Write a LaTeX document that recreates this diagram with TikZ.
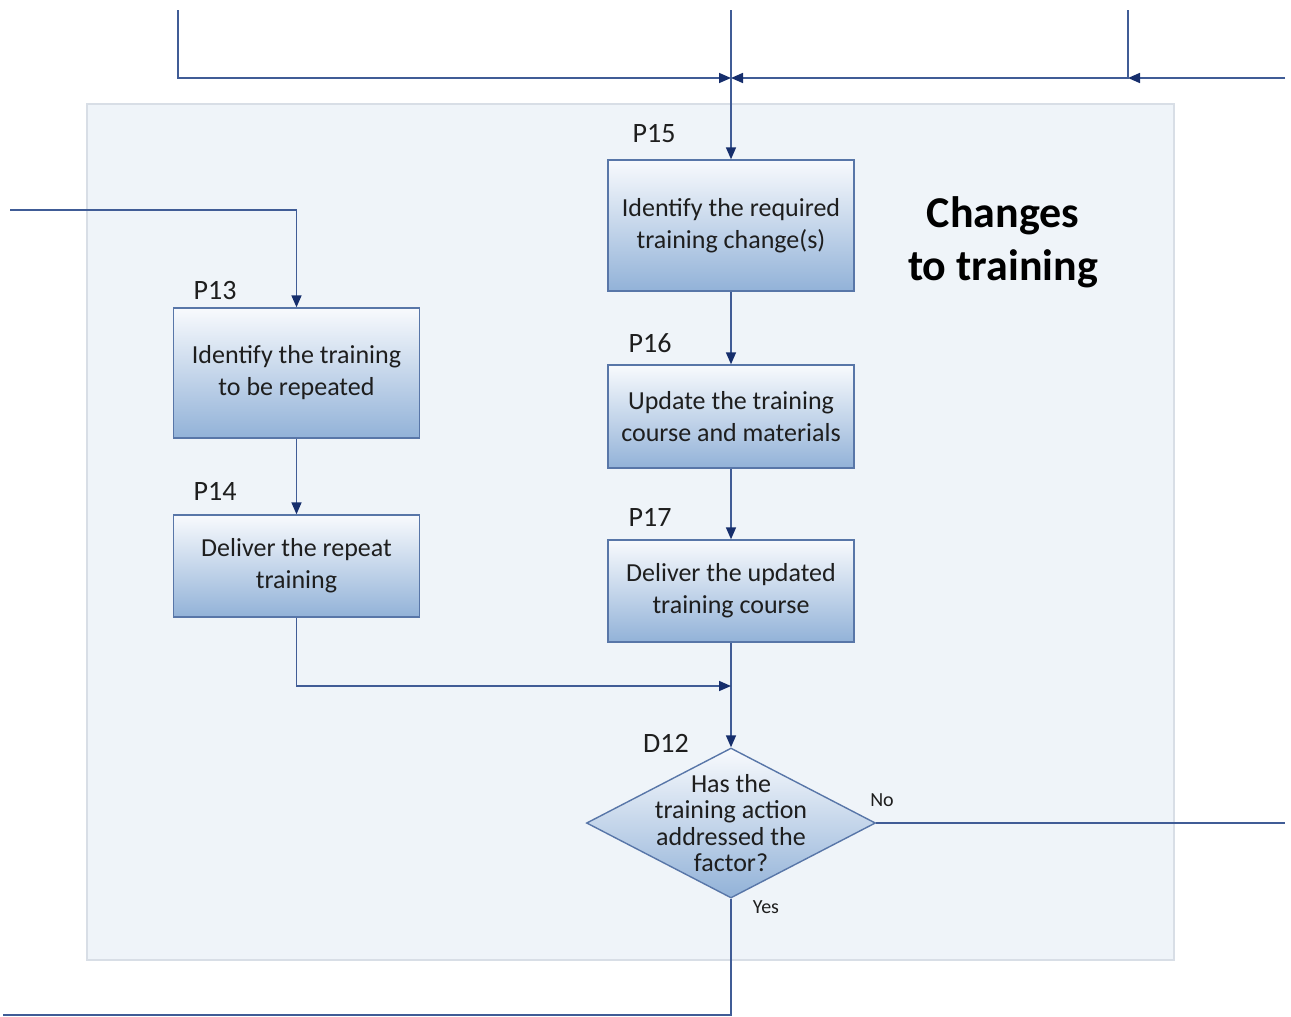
\documentclass[tikz,border=0pt]{standalone}
\usepackage{fontspec}
\setmainfont{Carlito}
\usetikzlibrary{positioning,shapes.geometric,arrows.meta,calc}

\definecolor{flowline}{RGB}{64,92,150}
\definecolor{flowtip}{RGB}{22,46,108}
\definecolor{boxedge}{RGB}{88,118,168}
\definecolor{boxtop}{RGB}{248,250,253}
\definecolor{boxbottom}{RGB}{146,178,216}
\definecolor{panelfill}{RGB}{239,244,249}
\definecolor{paneledge}{RGB}{216,222,230}
\definecolor{ink}{RGB}{30,30,30}

\tikzset{
  process/.style={draw=boxedge, line width=0.7pt, top color=boxtop, bottom color=boxbottom,
    minimum width=123pt, align=center, inner sep=0pt, text=ink,
    font=\fontsize{13}{16}\selectfont},
  decision/.style={diamond, draw=boxedge, line width=0.7pt, top color=boxtop, bottom color=boxbottom,
    minimum width=144.5pt, minimum height=75pt, inner sep=0pt},
  flow/.style={draw=flowline, line width=0.8pt, -{Triangle[length=6pt,width=5pt,color=flowtip]}},
  link/.style={draw=flowline, line width=0.8pt},
  tag/.style={text=ink, font=\fontsize{14}{16}\selectfont},
  answer/.style={text=ink, font=\fontsize{10}{12}\selectfont},
  panel/.style={fill=panelfill, draw=paneledge, line width=0.6pt}
}

\begin{document}
\begin{tikzpicture}[x=0.5pt, y=-0.5pt]
  \useasboundingbox (0,0) rectangle (1291,1017);

  % group background
  \draw[panel] (87,104) rectangle (1174,960);
  \node[text=black, font=\bfseries\fontsize{22}{26.5}\selectfont, align=center] (title) at (1003,242) {Changes\\to training};

  % process steps
  \node[process, minimum height=65.5pt] (p15) at (731,225.5) {Identify the required\\training change(s)};
  \node[process, minimum height=51.5pt] (p16) at (731,416.5) {Update the training\\course and materials};
  \node[process, minimum height=51pt]   (p17) at (731,591)   {Deliver the updated\\training course};
  \node[process, minimum height=65pt]   (p13) at (296.5,373) {Identify the training\\to be repeated};
  \node[process, minimum height=51pt]   (p14) at (296.5,566) {Deliver the repeat\\training};

  \node[decision] (d12) at (731,823) {};
  \node[align=center, text=ink, font=\fontsize{13}{13.3}\selectfont] (d12text) at (d12) {Has the\\training action\\addressed the\\factor?};

  % step ids
  \node[tag] (p15tag) at (654,134) {P15};
  \node[tag] (p16tag) at (650,343) {P16};
  \node[tag] (p17tag) at (650,517) {P17};
  \node[tag] (p13tag) at (215,291) {P13};
  \node[tag] (p14tag) at (215,491) {P14};
  \node[tag] (d12tag) at (666,743) {D12};

  % loose ends
  \coordinate (inL) at (178,10);
  \coordinate (inM) at (731,10);
  \coordinate (inR) at (1128,10);
  \coordinate (inE) at (1285,78);
  \coordinate (join) at (731,78);
  \coordinate (joinR) at (1128,78);
  \coordinate (inP13) at (10,210);
  \coordinate (merge) at (731,686);
  \coordinate (outNo) at (1285,823);
  \coordinate (outYes) at (3,1015);

  % connectors
  \draw[flow] (inL) |- (join);
  \draw[flow] (inE) -- (joinR);
  \draw[flow] (inR) |- (join);
  \draw[flow] (inM) -- (p15.north);
  \draw[flow] (inP13) -| (p13.north);
  \draw[flow] (p13) -- (p14);
  \draw[flow] (p15) -- (p16);
  \draw[flow] (p16) -- (p17);
  \draw[flow] (p17) -- (d12.north);
  \draw[flow] (p14.south) |- (merge);
  \draw[link] (d12.east) -- (outNo);
  \draw[link] (d12.south) |- (outYes);
  \node[answer] (no) at (882,800) {No};
  \node[answer] (yes) at (766,907) {Yes};
\end{tikzpicture}
\end{document}
